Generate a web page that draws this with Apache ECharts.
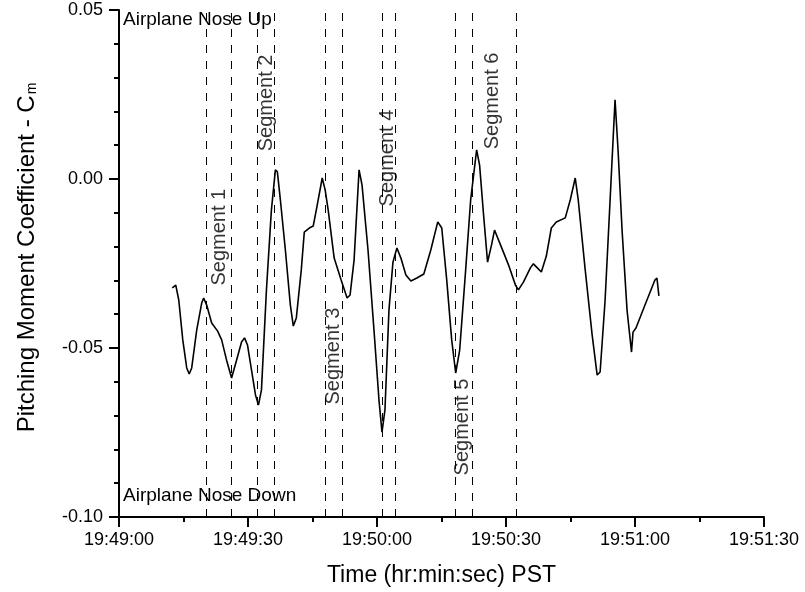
<!DOCTYPE html>
<html>
<head>
<meta charset="utf-8">
<script src="https://cdn.jsdelivr.net/npm/echarts@6/dist/echarts.min.js"></script>
<style>
html,body{margin:0;padding:0;background:#fff;}
#chart{width:805px;height:592px;}
</style>
</head>
<body>
<div id="chart"></div>
<script>
// Seconds after 19:49:00 PST
const timeSec = [12.39,13.20,13.90,14.83,15.75,16.33,16.91,18.07,19.23,19.69,20.39,21.55,22.94,23.87,25.02,26.18,27.34,28.50,29.19,29.88,30.81,31.74,32.43,33.13,34.29,35.44,36.37,36.83,37.53,38.69,39.85,40.54,41.24,42.39,43.09,44.25,45.17,46.10,47.26,47.95,48.65,50.04,51.66,53.05,53.74,54.67,55.83,56.52,57.91,59.30,60.46,61.16,61.85,62.78,63.71,64.63,65.56,66.72,67.88,69.27,70.89,72.51,74.13,75.06,76.22,77.37,78.30,79.23,80.62,81.78,83.17,83.86,84.79,85.71,86.64,87.33,88.72,90.58,92.20,92.89,94.05,95.67,96.37,97.29,98.22,99.38,100.54,101.70,103.78,104.94,106.10,106.80,108.42,110.04,111.20,111.89,113.05,114.21,115.36,116.06,116.99,118.15,118.84,119.19,119.54,120.23,122.32,124.63,125.10,125.56];
const cmValues = [-0.0322,-0.0314,-0.0358,-0.0476,-0.0559,-0.0577,-0.0559,-0.0447,-0.0367,-0.0352,-0.0373,-0.0426,-0.0450,-0.0476,-0.0536,-0.0589,-0.0536,-0.0482,-0.0470,-0.0491,-0.0565,-0.0639,-0.0669,-0.0624,-0.0328,-0.0092,0.0027,0.0021,-0.0062,-0.0210,-0.0373,-0.0435,-0.0411,-0.0269,-0.0157,-0.0145,-0.0139,-0.0077,0.0003,-0.0033,-0.0092,-0.0234,-0.0299,-0.0352,-0.0343,-0.0240,0.0027,-0.0018,-0.0210,-0.0447,-0.0654,-0.0749,-0.0683,-0.0388,-0.0246,-0.0204,-0.0234,-0.0284,-0.0302,-0.0293,-0.0281,-0.0210,-0.0127,-0.0145,-0.0299,-0.0476,-0.0574,-0.0506,-0.0269,-0.0062,0.0086,0.0041,-0.0107,-0.0246,-0.0195,-0.0151,-0.0195,-0.0254,-0.0314,-0.0328,-0.0305,-0.0263,-0.0251,-0.0263,-0.0275,-0.0228,-0.0145,-0.0127,-0.0115,-0.0062,0.0003,-0.0062,-0.0269,-0.0462,-0.0580,-0.0571,-0.0358,-0.0062,0.0234,0.0086,-0.0151,-0.0388,-0.0470,-0.0512,-0.0453,-0.0441,-0.0373,-0.0299,-0.0293,-0.0346];
// Segment boundary times (s after 19:49:00)
const boundaryTimes = [20.22,26.02,32.2,36.2,47.95,51.9,61.16,64.24,78.2,82.17,92.3];
// Segment labels and their anchor (time, Cm)
const segNames = ['Segment 1','Segment 2','Segment 3','Segment 4','Segment 5','Segment 6'];
const segTimes = [23.40,34.29,49.81,62.43,79.92,86.76];
const segValues = [-0.0172,0.0225,-0.0524,0.0062,-0.0734,0.0231];
// Axis ticks
const xMin = 0, xMax = 150, xStep = 30;
const yMin = -0.10, yMax = 0.05, yStep = 0.05;
const startClock = 19*3600 + 49*60;

const FONT = 'Liberation Sans, Arial, sans-serif';
function clock(v){
  const s = Math.round(startClock + v);
  const h = Math.floor(s/3600), m = Math.floor((s%3600)/60), sec = s%60;
  const p = n => (n<10?'0':'')+n;
  return h + ':' + p(m) + ':' + p(sec);
}

const chart = echarts.init(document.getElementById('chart'), null, {renderer:'canvas'});
chart.setOption({
  animation:false,
  backgroundColor:'#fff',
  grid:{left:117,right:41,top:10,bottom:75,containLabel:false},
  xAxis:{
    type:'value', min:xMin, max:xMax, interval:xStep,
    name:'Time (hr:min:sec) PST', nameLocation:'middle', nameGap:47,
    nameTextStyle:{fontSize:23,color:'#000',fontFamily:FONT},
    axisLine:{onZero:false,lineStyle:{color:'#000',width:2}},
    axisTick:{show:true,inside:false,length:10,lineStyle:{color:'#000',width:2}},
    minorTick:{show:true,splitNumber:2,length:5,lineStyle:{color:'#000',width:2}},
    splitLine:{show:false},
    axisLabel:{formatter:clock,fontSize:18,color:'#000',fontFamily:FONT,margin:14}
  },
  yAxis:{
    type:'value', min:yMin, max:yMax, interval:yStep,
    name:'{a|Pitching Moment Coefficient - C}{m|m}', nameLocation:'middle', nameRotate:90, nameGap:80,
    nameTextStyle:{color:'#000',fontFamily:FONT,padding:[0,0,0,12],
      rich:{
        a:{fontSize:24,color:'#000',fontFamily:FONT,lineHeight:24,verticalAlign:'top'},
        m:{fontSize:14,color:'#000',fontFamily:FONT,lineHeight:14,padding:[17,0,0,1],verticalAlign:'bottom'}
      }},
    axisLine:{show:true,onZero:false,lineStyle:{color:'#000',width:2}},
    axisTick:{show:true,inside:false,length:10,lineStyle:{color:'#000',width:2}},
    minorTick:{show:true,splitNumber:5,length:5,lineStyle:{color:'#000',width:2}},
    splitLine:{show:false},
    axisLabel:{formatter:v=>v.toFixed(2),fontSize:18,color:'#000',fontFamily:FONT,margin:16}
  },
  graphic:[
    {type:'text',left:123,top:10,style:{text:'Airplane Nose Up',fontSize:19,fill:'#000',fontFamily:FONT}},
    {type:'text',left:123,top:486,style:{text:'Airplane Nose Down',fontSize:19,fill:'#000',fontFamily:FONT}}
  ],
  series:[
    {
      type:'line', data: timeSec.map((t,i)=>[t,cmValues[i]]),
      symbol:'none', smooth:false,
      lineStyle:{color:'#000',width:1.6},
      markLine:{
        silent:true, symbol:['none','none'], label:{show:false},
        lineStyle:{color:'#000',width:1,type:[8,8]},
        data: boundaryTimes.map(t=>({xAxis:t}))
      }
    },
    {
      type:'scatter', symbolSize:1, silent:true,
      itemStyle:{color:'transparent'},
      data: segNames.map((n,i)=>({name:n,value:[segTimes[i],segValues[i]]})),
      label:{show:true,position:'inside',rotate:90,formatter:'{b}',fontSize:20,color:'#000',
        textBorderWidth:0,fontFamily:FONT}
    }
  ]
});
</script>
</body>
</html>
